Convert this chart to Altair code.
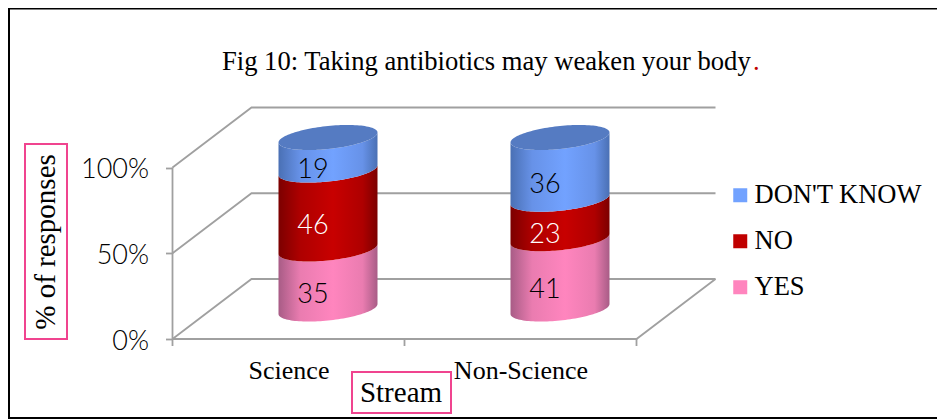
import altair as alt
import numpy as np
import pandas as pd

# ---- chart values ----
categories = ["Science", "Non-Science"]
series = ["YES", "NO", "DON'T KNOW"]
yes_values = [35, 41]
no_values = [46, 23]
dont_know_values = [19, 36]
y_ticks = [0, 50, 100]
title_text = "Fig 10: Taking antibiotics may weaken your body"
title_tail = "."

# ---- layout and style ----
W, H = 929, 411
X0, XSTEP = 172.5, 232.0      # page px of category origin and px per category
Y0, YUNIT = 339.0, 1.715      # page px of 0 % and px per percent
DEPTH_U, DEPTH_V = 79.0 / XSTEP, 60.0 / YUNIT   # full depth in data units
CYL_A = 49.5 / XSTEP          # half width of cylinder
CYL_B = 11.5 / YUNIT          # half height of the elliptic end
CYL_K = 5.0 / YUNIT           # tilt of the elliptic end
GRID = "#A0A0A0"
PINK_BOX = "#F0448F"
SERIF = "Liberation Serif"
GEO = "Lato"

x_scale = alt.Scale(domain=[(8 - X0) / XSTEP, (8 + W - X0) / XSTEP], nice=False, zero=False)
y_scale = alt.Scale(domain=[(Y0 - 8 - H) / YUNIT, (Y0 - 8) / YUNIT], nice=False, zero=False)

cat_expr = "[" + ",".join(f"'{c}'" for c in categories) + "][floor(datum.value)]"
x_axis = alt.Axis(
    values=[i + 0.5 for i in range(len(categories))], labelExpr=cat_expr,
    orient="bottom", offset=-(8 + H - Y0), domain=False, ticks=False, grid=False,
    labelPadding=18, labelFont=SERIF, labelFontSize=26, labelColor="#000000",
    labelOverlap=False, labelFlush=False)
y_axis = alt.Axis(
    values=y_ticks, labelExpr="datum.value + '%'", orient="left", offset=-(X0 - 8),
    domain=False, grid=False, tickSize=7, tickColor=GRID, tickWidth=1.8,
    labelPadding=17, labelFont=GEO, labelFontWeight=300, labelFontSize=27,
    labelColor="#000000", labelOffset=2)


def grad(edge, shoulder, mid):
    return alt.Gradient(
        gradient="linear", x1=0, x2=1, y1=0, y2=0,
        stops=[alt.GradientStop(color=edge, offset=0),
               alt.GradientStop(color=shoulder, offset=0.22),
               alt.GradientStop(color=mid, offset=0.55),
               alt.GradientStop(color=shoulder, offset=0.85),
               alt.GradientStop(color=edge, offset=1)],
    )


fills = {
    "YES": grad("#A85C86", "#EA7CB0", "#FF85BE"),
    "NO": grad("#7C0000", "#AE0000", "#C80000"),
    "DON'T KNOW": grad("#4A70B4", "#6792E8", "#72A2FF"),
}
legend_colors = ["#72A2FF", "#C00000", "#FF85BE"]

X = lambda f="u": alt.X(f"{f}:Q", scale=x_scale, axis=x_axis, title=None)
Y = lambda f="v": alt.Y(f"{f}:Q", scale=y_scale, axis=y_axis, title=None)

layers = []

# ---- x ticks ----
ticks_df = pd.DataFrame({"u": [0.0, 1.0, 2.0], "v": [0.0] * 3, "v2": [-7 / YUNIT] * 3})
layers.append(
    alt.Chart(ticks_df).mark_rule(color=GRID, strokeWidth=1.8).encode(x=X(), y=Y(), y2="v2:Q")
)

# ---- frame lines (perspective walls) ----
rows = []
for p in y_ticks:
    rows += [dict(g=f"w{p}", o=0, u=0.0, v=p),
             dict(g=f"w{p}", o=1, u=DEPTH_U, v=p + DEPTH_V),
             dict(g=f"w{p}", o=2, u=2 + DEPTH_U, v=p + DEPTH_V)]
rows += [dict(g="front", o=0, u=0.0, v=0), dict(g="front", o=1, u=2.0, v=0),
         dict(g="front", o=2, u=2 + DEPTH_U, v=DEPTH_V),
         dict(g="axis", o=0, u=0.0, v=0), dict(g="axis", o=1, u=0.0, v=100)]
layers.append(
    alt.Chart(pd.DataFrame(rows)).mark_line(color=GRID, strokeWidth=1.8).encode(
        x=X(), y=Y(), detail="g:N", order="o:Q")
)

# ---- cylinders ----
angles = np.linspace(0, np.pi, 61)
s = np.cos(angles)[::-1]          # -1 .. 1 across the cylinder
root = np.sqrt(np.clip(1 - s ** 2, 0, 1))


def front(pct):
    return pct + DEPTH_V / 2 + CYL_K * s - CYL_B * root


def back(pct):
    return pct + DEPTH_V / 2 + CYL_K * s + CYL_B * root


labels = []
for i in range(len(categories)):
    uc = i + 0.5 + DEPTH_U / 2
    base = 0
    for name, vals in zip(series, [yes_values, no_values, dont_know_values]):
        val = vals[i]
        df = pd.DataFrame({"u": uc + CYL_A * s, "v": front(base), "v2": front(base + val)})
        layers.append(alt.Chart(df).mark_area(fill=fills[name], line=False, interpolate="linear").encode(
            x=X(), y=Y(), y2="v2:Q"))
        labels.append(dict(u=uc, v=base + val / 2 + DEPTH_V / 2, t=str(val),
                           c="#FFFFFF" if name == "NO" else "#000000"))
        base += val
    df = pd.DataFrame({"u": uc + CYL_A * s, "v": front(base), "v2": back(base)})
    layers.append(alt.Chart(df).mark_area(color="#557BC2", interpolate="linear").encode(
        x=X(), y=Y(), y2="v2:Q"))

layers.append(
    alt.Chart(pd.DataFrame(labels)).mark_text(font=GEO, fontWeight=300, fontSize=27, dx=-15, dy=16.5).encode(
        x=X(), y=Y(), text="t:N", color=alt.Color("c:N", scale=None))
)

# ---- legend ----
legend_df = pd.DataFrame({"s": series[::-1], "u": [0.0] * 3, "v": [0.0] * 3})
layers.append(
    alt.Chart(legend_df).mark_point(shape="square", filled=True, opacity=0).encode(
        x=X(), y=Y(),
        color=alt.Color("s:N", scale=alt.Scale(domain=series[::-1], range=legend_colors),
                        sort=series[::-1],
                        legend=alt.Legend(title=None, orient="none", legendX=719, legendY=174,
                                          symbolType="square", symbolSize=196, symbolOpacity=1,
                                          symbolStrokeWidth=0, labelFont=SERIF, labelFontSize=26.5,
                                          labelColor="#000000", labelOffset=1, rowPadding=19,
                                          labelLimit=300)),
    )
)

# ---- text and boxes ----
one = pd.DataFrame({"a": [0]})


def box(x1, x2, y1, y2, stroke, sw):
    return alt.Chart(one).mark_rect(fillOpacity=0, stroke=stroke, strokeWidth=sw).encode(
        x=alt.value(x1 - 8), x2=alt.value(x2 - 8), y=alt.value(y1 - 8), y2=alt.value(y2 - 8))


def text(t, x, y, size, color="#000000", align="center", angle=0):
    return alt.Chart(pd.DataFrame({"t": [t]})).mark_text(
        font=SERIF, fontSize=size, color=color, align=align, baseline="alphabetic", angle=angle
    ).encode(x=alt.value(x - 8), y=alt.value(y - 8), text="t:N")


layers += [
    box(9, 1000, 8.5, 418, "#000000", 2),
    box(25, 67, 144, 339, PINK_BOX, 2),
    box(352, 451, 372, 413, PINK_BOX, 2),
    text(title_text, 222, 70, 26.6, align="left"),
    text(title_tail, 753, 70, 26.6, color="#C00000", align="left"),
    text("% of responses", 55, 242, 29, angle=270),
    text("Stream", 401, 402, 29),
]

chart = alt.layer(*layers).properties(
    width=W, height=H, padding=0,
    autosize=alt.AutoSizeParams(type="none"),
).configure_view(stroke=None)

chart.save("out.html", embed_options={"renderer": "svg", "actions": False})
